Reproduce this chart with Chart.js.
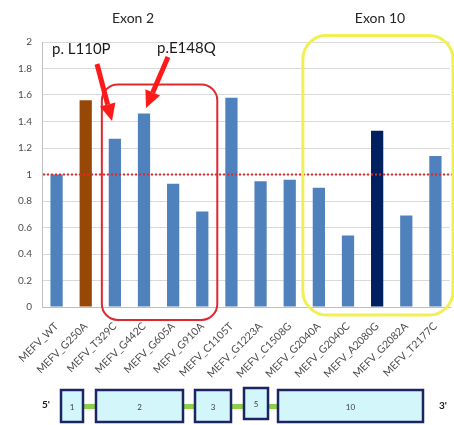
<!DOCTYPE html>
<html>
<head>
<meta charset="utf-8">
<script src="https://cdn.jsdelivr.net/npm/chart.js@4.4.1/dist/chart.umd.min.js"></script>
<style>
  html, body { margin: 0; padding: 0; background: #ffffff; }
  #wrap { width: 454px; height: 425px; position: relative; }
</style>
</head>
<body>
<div id="wrap"><canvas id="chart" width="454" height="425"></canvas></div>
<script>
// MEFV variant constructs and their relative expression (WT = 1)
const variants = [
  'MEFV_WT', 'MEFV_G250A', 'MEFV_T329C', 'MEFV_G442C', 'MEFV_G605A',
  'MEFV_G910A', 'MEFV_C1105T', 'MEFV_G1223A', 'MEFV_C1508G', 'MEFV_G2040A',
  'MEFV_G2040C', 'MEFV_A2080G', 'MEFV_G2082A', 'MEFV_T2177C'
];
const expression = [1.00, 1.56, 1.27, 1.46, 0.93, 0.72, 1.58, 0.95, 0.96, 0.90, 0.54, 1.33, 0.69, 1.14];
const yTicks = [0, 0.2, 0.4, 0.6, 0.8, 1, 1.2, 1.4, 1.6, 1.8, 2];
const referenceLevel = 1;
const exonNames = ['1', '2', '3', '5', '10'];
const exonTitles = ['Exon 2', 'Exon 10'];
const mutationNotes = ['p. L110P', 'p.E148Q'];

const FONT = "Lato, 'Liberation Sans', sans-serif";
const BLUE = '#4f81bd';
const barColors = variants.map(v =>
  v === 'MEFV_G250A' ? '#974806' : v === 'MEFV_A2080G' ? '#002060' : BLUE);

function roundRect(ctx, x, y, w, h, r) {
  ctx.beginPath();
  ctx.moveTo(x + r, y);
  ctx.lineTo(x + w - r, y);
  ctx.arcTo(x + w, y, x + w, y + r, r);
  ctx.lineTo(x + w, y + h - r);
  ctx.arcTo(x + w, y + h, x + w - r, y + h, r);
  ctx.lineTo(x + r, y + h);
  ctx.arcTo(x, y + h, x, y + h - r, r);
  ctx.lineTo(x, y + r);
  ctx.arcTo(x, y, x + r, y, r);
  ctx.closePath();
}

function arrow(ctx, x0, y0, x1, y1) {
  const ang = Math.atan2(y1 - y0, x1 - x0);
  const head = 17, half = 8;
  const bx = x1 - head * Math.cos(ang), by = y1 - head * Math.sin(ang);
  ctx.save();
  ctx.strokeStyle = '#ff1a1a';
  ctx.fillStyle = '#ff1a1a';
  ctx.lineWidth = 5;
  ctx.lineCap = 'butt';
  ctx.beginPath();
  ctx.moveTo(x0, y0);
  ctx.lineTo(bx, by);
  ctx.stroke();
  ctx.beginPath();
  ctx.moveTo(x1, y1);
  ctx.lineTo(bx + half * Math.sin(ang), by - half * Math.cos(ang));
  ctx.lineTo(bx - half * Math.sin(ang), by + half * Math.cos(ang));
  ctx.closePath();
  ctx.fill();
  ctx.restore();
}

// Reference line, highlighted exon groups, arrows and the gene structure sketch
const overlay = {
  id: 'overlay',
  afterDatasetsDraw(chart) {
    const ctx = chart.ctx;
    const x = chart.scales.x, y = chart.scales.y;
    const area = chart.chartArea;
    const px = i => x.getPixelForValue(i);

    // dotted baseline at WT level
    ctx.save();
    ctx.strokeStyle = '#e0282e';
    ctx.lineWidth = 2;
    ctx.setLineDash([2, 2]);
    const yRef = y.getPixelForValue(referenceLevel);
    ctx.beginPath();
    ctx.moveTo(area.left + 1, yRef);
    ctx.lineTo(454, yRef);
    ctx.stroke();
    ctx.restore();

    // exon 2 group
    ctx.save();
    ctx.strokeStyle = '#e0282e';
    ctx.lineWidth = 2;
    const rx0 = px(2) - 13, rx1 = px(5) + 15;
    const ry0 = y.getPixelForValue(1.68), ry1 = area.bottom + 13;
    roundRect(ctx, rx0, ry0, rx1 - rx0, ry1 - ry0, 16);
    ctx.stroke();

    // exon 10 group
    ctx.strokeStyle = '#f0f055';
    ctx.lineWidth = 3;
    const gx0 = px(9) - 16, gx1 = 453;
    const gy0 = y.getPixelForValue(2.05), gy1 = area.bottom + 8;
    roundRect(ctx, gx0, gy0, gx1 - gx0, gy1 - gy0, 24);
    ctx.stroke();
    ctx.restore();

    // group titles
    ctx.save();
    ctx.fillStyle = '#262626';
    ctx.font = '14px ' + FONT;
    ctx.textAlign = 'center';
    ctx.textBaseline = 'middle';
    ctx.fillText(exonTitles[0], 133, 18);
    ctx.fillText(exonTitles[1], 380, 18);

    // mutation labels
    ctx.font = '15px ' + FONT;
    ctx.textAlign = 'left';
    ctx.fillStyle = '#1a1a1a';
    ctx.fillText(mutationNotes[0], 52, 49);
    ctx.fillText(mutationNotes[1], 157, 48);
    ctx.restore();

    arrow(ctx, 97, 64, 112, 121);
    arrow(ctx, 168, 57, 146, 108);

    // gene structure
    ctx.save();
    const boxes = [
      [61, 390, 22, 32], [96, 390, 87, 32], [195, 390, 36, 32],
      [244, 388, 24, 31], [278, 390, 145, 32]
    ];
    ctx.fillStyle = '#8fce4a';
    ctx.fillRect(83, 404, 195, 5);
    boxes.forEach((b, i) => {
      ctx.fillStyle = '#d2f6fa';
      ctx.fillRect(b[0], b[1], b[2], b[3]);
      ctx.strokeStyle = '#1c2466';
      ctx.lineWidth = 2.5;
      ctx.strokeRect(b[0], b[1], b[2], b[3]);
      ctx.fillStyle = '#3a3a3a';
      ctx.font = '8px ' + FONT;
      ctx.textAlign = 'center';
      ctx.textBaseline = 'middle';
      ctx.fillText(exonNames[i], b[0] + b[2] / 2, b[1] + b[3] / 2 + 1);
    });
    ctx.fillStyle = '#1a1a1a';
    ctx.font = 'bold 10px ' + FONT;
    ctx.fillText("5'", 46, 405);
    ctx.fillText("3'", 443, 406);
    ctx.restore();
  }
};

new Chart(document.getElementById('chart'), {
  type: 'bar',
  data: {
    labels: variants,
    datasets: [{
      data: expression,
      backgroundColor: barColors,
      borderWidth: 0,
      barPercentage: 0.42,
      categoryPercentage: 1
    }]
  },
  options: {
    responsive: false,
    animation: false,
    devicePixelRatio: 1,
    layout: { padding: { top: 42, right: 4, left: 0, bottom: 0 } },
    plugins: { legend: { display: false }, tooltip: { enabled: false } },
    scales: {
      x: {
        grid: { display: false },
        border: { display: true, color: '#bfbfbf', width: 1 },
        ticks: {
          color: '#4d4d4d',
          font: { family: FONT, size: 10.5 },
          minRotation: 45,
          maxRotation: 45,
          autoSkip: false,
          padding: 5
        },
        afterFit(scale) { scale.height = 118; }
      },
      y: {
        min: 0,
        max: 2,
        afterBuildTicks(scale) { scale.ticks = yTicks.map(v => ({ value: v })); },
        grid: { color: '#d9d9d9', drawTicks: false },
        border: { display: true, color: '#bfbfbf', width: 1 },
        ticks: {
          color: '#4d4d4d',
          font: { family: FONT, size: 10 },
          padding: 10,
          callback: v => String(Math.round(v * 10) / 10)
        },
        afterFit(scale) { scale.width = 42; }
      }
    }
  },
  plugins: [overlay]
});
</script>
</body>
</html>
